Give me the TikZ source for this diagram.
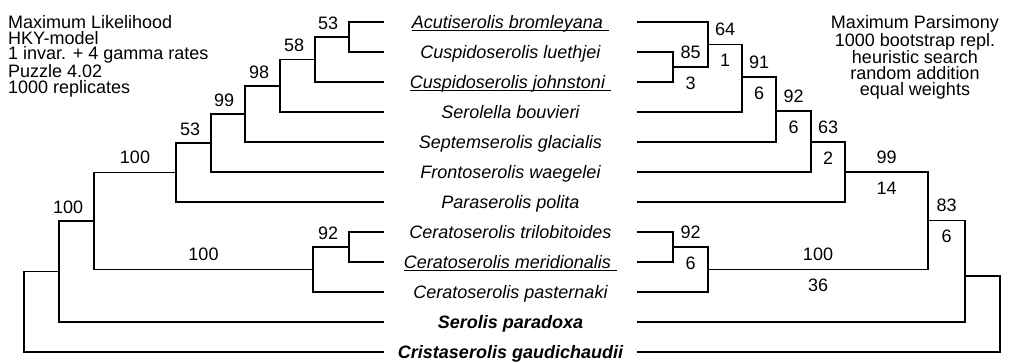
\documentclass[tikz,border=0pt]{standalone}
\usepackage{fontspec}
\setmainfont{Liberation Sans}
\newcommand\treefont{\fontsize{18}{18}\selectfont}
\newcommand\ulname[1]{\setbox0\hbox{#1\hspace{6pt}}\rlap{\rule[-3pt]{\wd0}{1pt}}\box0}

\begin{document}
\begin{tikzpicture}[x=1pt, y=-1pt,
      taxon/.style={font=\treefont\itshape, minimum width=253pt, inner sep=0pt,
                    text height=14pt, text depth=2pt},
      outgroup/.style={taxon, font=\treefont\bfseries\itshape},
      branch/.style={line width=1.5pt},
      info/.style={font=\fontsize{18}{15.8}\selectfont, inner sep=0pt},
      mlsup/.style={font=\treefont, inner sep=0pt, pos=1, anchor=south east,
                    xshift=-10pt, yshift=7pt},
      boot/.style={font=\treefont, inner sep=0pt, pos=0.75, anchor=south, yshift=8pt},
      decay/.style={font=\treefont, inner sep=0pt, pos=0.75, anchor=north, yshift=-9pt}
    ]
      \useasboundingbox (0,0) rectangle (1011,362);

      % Method notes
      \node[info, anchor=north west, align=left] (mlnote) at (8,15)
        {Maximum Likelihood\\HKY-model\\1 invar. + 4 gamma rates\\Puzzle 4.02\\1000 replicates};
      \node[info, anchor=north, align=center] (mpnote) at (915,15)
        {Maximum Parsimony\\1000 bootstrap repl.\\heuristic search\\random addition\\equal weights};

      % Taxa (shared by both trees)
      \node[taxon] (acuti) at (510.5,22) {\ulname{Acutiserolis bromleyana}};
      \node[taxon] (luethjei) at (510.5,52) {Cuspidoserolis luethjei};
      \node[taxon] (johnstoni) at (510.5,82) {\ulname{Cuspidoserolis johnstoni}};
      \node[taxon] (bouvieri) at (510.5,112) {Serolella bouvieri};
      \node[taxon] (glacialis) at (510.5,142) {Septemserolis glacialis};
      \node[taxon] (waegelei) at (510.5,172) {Frontoserolis waegelei};
      \node[taxon] (polita) at (510.5,202) {Paraserolis polita};
      \node[taxon] (trilob) at (510.5,232) {Ceratoserolis trilobitoides};
      \node[taxon] (meridion) at (510.5,262) {\ulname{Ceratoserolis meridionalis}};
      \node[taxon] (pasternaki) at (510.5,292) {Ceratoserolis pasternaki};
      \node[outgroup] (paradoxa) at (510.5,322) {Serolis paradoxa};
      \node[outgroup] (gaudich) at (510.5,352) {Cristaserolis gaudichaudii};

      % Left tree: maximum likelihood
      \coordinate (ml1) at (349,37);
      \coordinate (ml2) at (315,59.5);
      \coordinate (ml3) at (280,86);
      \coordinate (ml4) at (245,114);
      \coordinate (ml5) at (211,143);
      \coordinate (ml6) at (176,172.5);
      \coordinate (ml7) at (349,247);
      \coordinate (ml8) at (313,269.5);
      \coordinate (ml9) at (94,221);
      \coordinate (ml10) at (59,271.5);
      \coordinate (ml11) at (24,312);

      \draw[branch] (ml1) |- (acuti.west);
      \draw[branch] (ml1) |- (luethjei.west);
      \draw[branch] (ml2) |- node[mlsup] {53} (ml1);
      \draw[branch] (ml2) |- (johnstoni.west);
      \draw[branch] (ml3) |- node[mlsup] {58} (ml2);
      \draw[branch] (ml3) |- (bouvieri.west);
      \draw[branch] (ml4) |- node[mlsup] {98} (ml3);
      \draw[branch] (ml4) |- (glacialis.west);
      \draw[branch] (ml5) |- node[mlsup] {99} (ml4);
      \draw[branch] (ml5) |- (waegelei.west);
      \draw[branch] (ml6) |- node[mlsup] {53} (ml5);
      \draw[branch] (ml6) |- (polita.west);
      \draw[branch] (ml7) |- (trilob.west);
      \draw[branch] (ml7) |- (meridion.west);
      \draw[branch] (ml8) |- node[mlsup] {92} (ml7);
      \draw[branch] (ml8) |- (pasternaki.west);
      \draw[branch] (ml9) |- node[boot] {100} (ml6);
      \draw[branch] (ml9) |- node[boot] {100} (ml8);
      \draw[branch] (ml10) |- node[mlsup] {100} (ml9);
      \draw[branch] (ml10) |- (paradoxa.west);
      \draw[branch] (ml11) |- (ml10);
      \draw[branch] (ml11) |- (gaudich.west);

      % Right tree: maximum parsimony (bootstrap above, decay below)
      \coordinate (mp1) at (673,67);
      \coordinate (mp2) at (708,44.5);
      \coordinate (mp3) at (742,77);
      \coordinate (mp4) at (776,111);
      \coordinate (mp5) at (811,142);
      \coordinate (mp6) at (845,172);
      \coordinate (mp7) at (673,247);
      \coordinate (mp8) at (708,269.5);
      \coordinate (mp9) at (928,220.5);
      \coordinate (mp10) at (965,276);
      \coordinate (mp11) at (1000,314);

      \draw[branch] (mp1) |- (luethjei.east);
      \draw[branch] (mp1) |- (johnstoni.east);
      \draw[branch] (mp2) |- (acuti.east);
      \draw[branch] (mp2) |- node[boot] {85} node[decay] {3} (mp1);
      \draw[branch] (mp3) |- node[boot] {64} node[decay] {1} (mp2);
      \draw[branch] (mp3) |- (bouvieri.east);
      \draw[branch] (mp4) |- node[boot] {91} node[decay] {6} (mp3);
      \draw[branch] (mp4) |- (glacialis.east);
      \draw[branch] (mp5) |- node[boot] {92} node[decay] {6} (mp4);
      \draw[branch] (mp5) |- (waegelei.east);
      \draw[branch] (mp6) |- node[boot] {63} node[decay] {2} (mp5);
      \draw[branch] (mp6) |- (polita.east);
      \draw[branch] (mp7) |- (trilob.east);
      \draw[branch] (mp7) |- (meridion.east);
      \draw[branch] (mp8) |- node[boot] {92} node[decay] {6} (mp7);
      \draw[branch] (mp8) |- (pasternaki.east);
      \draw[branch] (mp9) |- node[boot] {99} node[decay] {14} (mp6);
      \draw[branch] (mp9) |- node[boot] {100} node[decay] {36} (mp8);
      \draw[branch] (mp10) |- node[boot] {83} node[decay] {6} (mp9);
      \draw[branch] (mp10) |- (paradoxa.east);
      \draw[branch] (mp11) |- (mp10);
      \draw[branch] (mp11) |- (gaudich.east);
    \end{tikzpicture}
\end{document}
